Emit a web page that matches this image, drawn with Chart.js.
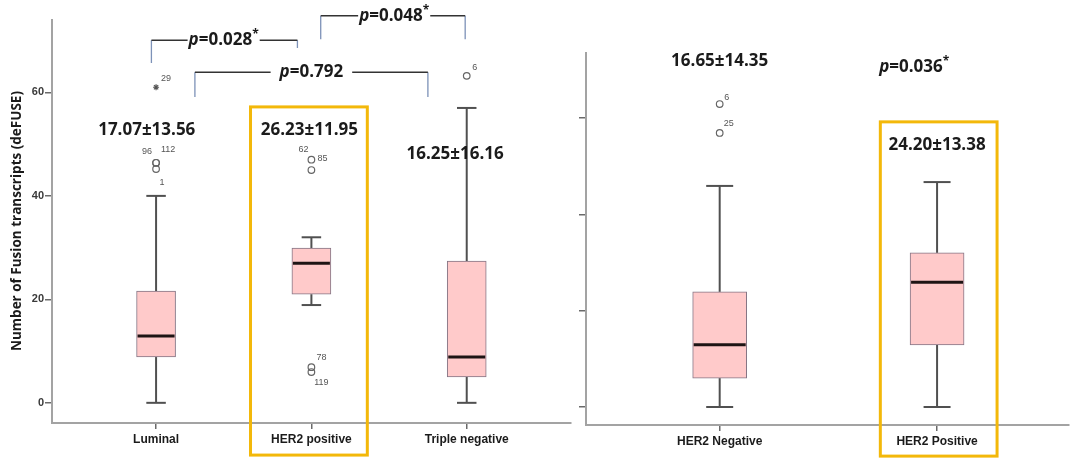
<!DOCTYPE html>
<html><head><meta charset="utf-8">
<script src="https://cdn.jsdelivr.net/npm/chart.js@4.4.1/dist/chart.umd.min.js"></script>
<style>
html,body{margin:0;padding:0;background:#fff;}
#wrap{position:relative;width:1074px;height:458px;overflow:hidden;background:#fff;}
canvas{position:absolute;top:0;}
</style></head><body>
<div id="wrap">
<canvas id="c1" width="576" height="458" style="left:0"></canvas>
<canvas id="c2" width="498" height="458" style="left:576px"></canvas>
</div>
<script>
// ---------- Left panel: molecular subtypes ----------
const subtypeCategories = ['Luminal', 'HER2 positive', 'Triple negative'];
const subtypeQ1 = [8.85, 21.0, 5.0];
const subtypeMedian = [12.9, 27.0, 8.85];
const subtypeQ3 = [21.6, 29.9, 27.4];
const subtypeWhiskerLow = [0, 18.9, 0];
const subtypeWhiskerHigh = [40.0, 32.0, 57.0];
const subtypeMeanSD = ['17.07±13.56', '26.23±11.95', '16.25±16.16'];
const subtypeOutlierCat = [1, 1, 1, 2, 2, 2, 2, 3];
const subtypeOutlierValue = [46.4, 46.4, 45.2, 47.0, 45.0, 6.9, 5.95, 63.2];
const subtypeOutlierId = ['96', '112', '1', '62', '85', '78', '119', '6'];
const subtypeExtremeCat = [1];
const subtypeExtremeValue = [61.0];
const subtypeExtremeId = ['29'];
const subtypePairA = [1, 2, 1];
const subtypePairB = [2, 3, 3];
const subtypePValue = ['0.028', '0.048', '0.792'];
const subtypePSignificant = [true, true, false];
const subtypeTicks = [0, 20, 40, 60];

// ---------- Right panel: HER2 status ----------
const herCategories = ['HER2 Negative', 'HER2 Positive'];
const herQ1 = [6.0, 12.9];
const herMedian = [12.9, 25.9];
const herQ3 = [23.9, 32.0];
const herWhiskerLow = [0, 0];
const herWhiskerHigh = [45.9, 46.7];
const herMeanSD = ['16.65±14.35', '24.20±13.38'];
const herOutlierCat = [1, 1];
const herOutlierValue = [62.9, 56.9];
const herOutlierId = ['6', '25'];
const herPValue = '0.036';
const herTicks = [0, 20, 40, 60];

Chart.defaults.font.family = '"Liberation Sans", Arial, sans-serif';

const BIG = '"Open Sans", "Liberation Sans", sans-serif';
const BOX_FILL = '#ffcaca';
const BOX_EDGE = '#857585';
const WHISK = '#505050';
const YELLOW = '#f3b80a';

function drawRich(ctx, cx, cy, parts, size, clear) {
  ctx.save();
  ctx.textBaseline = 'middle';
  ctx.textAlign = 'left';
  const fonts = parts.map(p => (p.italic ? 'italic ' : '') + 'bold ' + (p.sup ? Math.round(size * 0.7) : size) + 'px ' + BIG);
  let w = 0;
  const ws = parts.map((p, i) => { ctx.font = fonts[i]; const m = ctx.measureText(p.t).width; w += m; return m; });
  if (clear) {
    ctx.fillStyle = '#fff';
    ctx.fillRect(cx - w / 2 - clear, cy - size * 0.6, w + 2 * clear, size * 1.1);
  }
  let x = cx - w / 2;
  ctx.fillStyle = '#1b1b1b';
  parts.forEach((p, i) => {
    ctx.font = fonts[i];
    ctx.fillText(p.t, x, p.sup ? cy - size * 0.3 : cy);
    x += ws[i];
  });
  ctx.restore();
}

function pParts(v, sig) {
  const a = [{ t: 'p', italic: true }, { t: '=' + v }];
  if (sig) a.push({ t: '*', sup: true });
  return a;
}

function boxPlugin(spec) {
  return {
    id: 'boxes',
    beforeDatasetsDraw(chart) {
      const ctx = chart.ctx, xs = chart.scales.x, ys = chart.scales.y;
      ctx.save();
      ctx.strokeStyle = WHISK;
      ctx.lineWidth = 2;
      spec.q1.forEach((_, i) => {
        const x = xs.getPixelForValue(i + 1);
        const cap = spec.boxW / 4;
        const segs = [[spec.wl[i], spec.q1[i]], [spec.q3[i], spec.wh[i]]];
        segs.forEach(([a, b]) => {
          ctx.beginPath();
          ctx.moveTo(x, ys.getPixelForValue(a));
          ctx.lineTo(x, ys.getPixelForValue(b));
          ctx.stroke();
        });
        [spec.wl[i], spec.wh[i]].forEach(v => {
          const y = ys.getPixelForValue(v);
          ctx.beginPath();
          ctx.moveTo(x - cap, y);
          ctx.lineTo(x + cap, y);
          ctx.stroke();
        });
      });
      ctx.restore();
    },
    afterDatasetsDraw(chart) {
      const ctx = chart.ctx, xs = chart.scales.x, ys = chart.scales.y;
      ctx.save();
      ctx.strokeStyle = '#1e1414';
      ctx.lineWidth = 3;
      spec.med.forEach((m, i) => {
        const x = xs.getPixelForValue(i + 1);
        const y = ys.getPixelForValue(m);
        ctx.beginPath();
        ctx.moveTo(x - spec.boxW / 2 + 1, y);
        ctx.lineTo(x + spec.boxW / 2 - 1, y);
        ctx.stroke();
      });
      // outlier case numbers
      ctx.fillStyle = '#555';
      ctx.font = '9px "Liberation Sans", Arial, sans-serif';
      ctx.textAlign = 'center';
      ctx.textBaseline = 'middle';
      spec.labels.forEach(l => {
        const x = xs.getPixelForValue(l.cat) + l.dx;
        const y = ys.getPixelForValue(l.value) + l.dy;
        ctx.fillText(l.id, x, y);
      });
      ctx.restore();
    },
    afterDraw(chart) {
      spec.extra(chart);
    }
  };
}

// ---------- Left chart ----------
const leftLabelOffset = { '96': [-9, -11], '112': [12, -13], '1': [6, 14], '62': [-8, -10], '85': [11, -12], '78': [10, -10], '119': [10, 10], '6': [8, -8], '29': [10, -9] };
const leftLabels = subtypeOutlierId.map((id, i) => ({ id, cat: subtypeOutlierCat[i], value: subtypeOutlierValue[i], dx: leftLabelOffset[id][0], dy: leftLabelOffset[id][1] }))
  .concat(subtypeExtremeId.map((id, i) => ({ id, cat: subtypeExtremeCat[i], value: subtypeExtremeValue[i], dx: leftLabelOffset[id][0], dy: leftLabelOffset[id][1] })));

// bracket geometry in axis units (category units / data units)
const leftBrackets = [
  { x1: 0.97, x2: 1.91, top: 70.1, e1: 65.7, e2: 68.6, tx: 1.435, gap: 1 },
  { x1: 2.06, x2: 2.99, top: 74.8, e1: 70.3, e2: 70.3, tx: 2.533, gap: 1 },
  { x1: 1.25, x2: 2.75, top: 63.9, e1: 59.1, e2: 59.1, tx: 2.0, gap: 9 }
];
const leftMeanPos = [[0.94, 52.7], [1.987, 52.7], [2.925, 48.1]];

function leftExtra(chart) {
  const ctx = chart.ctx, xs = chart.scales.x, ys = chart.scales.y;
  const X = v => xs.getPixelForValue(v), Y = v => ys.getPixelForValue(v);
  // y axis title
  ctx.save();
  ctx.translate(17, 221);
  ctx.rotate(-Math.PI / 2);
  ctx.font = 'bold 13.5px ' + BIG;
  ctx.fillStyle = '#1b1b1b';
  ctx.textAlign = 'center';
  ctx.textBaseline = 'middle';
  ctx.fillText('Number of Fusion transcripts (deFUSE)', 0, 0);
  ctx.restore();
  // brackets
  leftBrackets.forEach((b, i) => {
    ctx.save();
    ctx.strokeStyle = '#7d92b8';
    ctx.lineWidth = 1.3;
    ctx.beginPath();
    ctx.moveTo(X(b.x1), Y(b.e1)); ctx.lineTo(X(b.x1), Y(b.top));
    ctx.moveTo(X(b.x2), Y(b.e2)); ctx.lineTo(X(b.x2), Y(b.top));
    ctx.stroke();
    ctx.strokeStyle = '#333';
    ctx.lineWidth = 1.5;
    ctx.beginPath();
    ctx.moveTo(X(b.x1), Y(b.top)); ctx.lineTo(X(b.x2), Y(b.top));
    ctx.stroke();
    ctx.restore();
    drawRich(ctx, X(b.tx), Y(b.top), pParts(subtypePValue[i], subtypePSignificant[i]), 17, b.gap);
  });
  // mean ± SD
  subtypeMeanSD.forEach((t, i) => drawRich(ctx, X(leftMeanPos[i][0]), Y(leftMeanPos[i][1]), [{ t }], 17, 0));
  // highlight frame
  ctx.save();
  ctx.strokeStyle = YELLOW;
  ctx.lineWidth = 3;
  const fx1 = X(1.608), fx2 = X(2.36), fy1 = Y(57.2), fy2 = Y(-10.1);
  ctx.strokeRect(fx1, fy1, fx2 - fx1, fy2 - fy1);
  ctx.restore();
}

function axisCommon(cats, ticks, min, max, ymin, ymax, yw, xh, showY) {
  return {
    x: {
      type: 'linear', min, max, offset: false,
      afterBuildTicks: s => { s.ticks = cats.map((c, i) => ({ value: i + 1 })); },
      afterFit: s => { s.height = xh; },
      ticks: { callback: v => cats[v - 1], autoSkip: false, maxRotation: 0, padding: 3, color: '#1b1b1b', font: { size: 12, weight: 'bold' } },
      grid: { display: true, offset: false, drawOnChartArea: false, drawTicks: true, tickLength: 6, color: '#6a6a6a', lineWidth: 1.5 },
      border: { display: true, color: '#a3a3a3', width: 2 }
    },
    y: {
      type: 'linear', min: ymin, max: ymax,
      afterBuildTicks: s => { s.ticks = ticks.map(v => ({ value: v })); },
      afterFit: s => { s.width = yw; },
      ticks: { callback: v => showY ? String(v) : '', padding: 1, color: '#3a3a3a', font: { size: 11, weight: 'bold' } },
      grid: { display: true, drawOnChartArea: false, drawTicks: true, tickLength: 7, color: '#6a6a6a', lineWidth: 1.5 },
      border: { display: true, color: '#a3a3a3', width: 2 }
    }
  };
}

new Chart(document.getElementById('c1'), {
  type: 'bar',
  data: {
    datasets: [
      {
        type: 'bar',
        data: subtypeCategories.map((c, i) => ({ x: i + 1, y: [subtypeQ1[i], subtypeQ3[i]] })),
        backgroundColor: BOX_FILL, borderColor: BOX_EDGE, borderWidth: 1, borderSkipped: false, barThickness: 39, order: 3
      },
      {
        type: 'scatter',
        data: subtypeOutlierCat.map((c, i) => ({ x: c, y: subtypeOutlierValue[i] })),
        pointStyle: 'circle', pointRadius: 3.3, pointBorderColor: '#666', pointBackgroundColor: 'rgba(255,255,255,0)', pointBorderWidth: 1.2, order: 1
      },
      {
        type: 'scatter',
        data: subtypeExtremeCat.map((c, i) => ({ x: c, y: subtypeExtremeValue[i] })),
        pointStyle: 'star', pointRadius: 3, pointBorderColor: '#555', pointBackgroundColor: '#555', pointBorderWidth: 1.2, order: 1
      }
    ]
  },
  options: {
    responsive: false, animation: false,
    layout: { padding: { top: 20, right: 4, left: 0, bottom: 0 } },
    plugins: { legend: { display: false }, tooltip: { enabled: false } },
    scales: axisCommon(subtypeCategories, subtypeTicks, 0.33, 3.67, -3.9, 74, 52, 35, true)
  },
  plugins: [boxPlugin({ q1: subtypeQ1, q3: subtypeQ3, med: subtypeMedian, wl: subtypeWhiskerLow, wh: subtypeWhiskerHigh, boxW: 39, labels: leftLabels, extra: leftExtra })]
});

// ---------- Right chart ----------
const rightLabelOffset = { '6': [7, -7], '25': [9, -9] };
const rightLabels = herOutlierId.map((id, i) => ({ id, cat: herOutlierCat[i], value: herOutlierValue[i], dx: rightLabelOffset[id][0], dy: rightLabelOffset[id][1] }));
const rightMeanPos = [[1.0, 71.8], [2.0, 54.4]];

function rightExtra(chart) {
  const ctx = chart.ctx, xs = chart.scales.x, ys = chart.scales.y;
  const X = v => xs.getPixelForValue(v), Y = v => ys.getPixelForValue(v);
  herMeanSD.forEach((t, i) => drawRich(ctx, X(rightMeanPos[i][0]), Y(rightMeanPos[i][1]), [{ t }], 17, 0));
  drawRich(ctx, X(1.895), Y(70.6), pParts(herPValue, true), 17, 0);
  ctx.save();
  ctx.strokeStyle = YELLOW;
  ctx.lineWidth = 3;
  const fx1 = X(1.739), fx2 = X(2.276), fy1 = Y(59.2), fy2 = Y(-10.2);
  ctx.strokeRect(fx1, fy1, fx2 - fx1, fy2 - fy1);
  ctx.restore();
}

new Chart(document.getElementById('c2'), {
  type: 'bar',
  data: {
    datasets: [
      {
        type: 'bar',
        data: herCategories.map((c, i) => ({ x: i + 1, y: [herQ1[i], herQ3[i]] })),
        backgroundColor: BOX_FILL, borderColor: BOX_EDGE, borderWidth: 1, borderSkipped: false, barThickness: 54, order: 3
      },
      {
        type: 'scatter',
        data: herOutlierCat.map((c, i) => ({ x: c, y: herOutlierValue[i] })),
        pointStyle: 'circle', pointRadius: 3.3, pointBorderColor: '#666', pointBackgroundColor: 'rgba(255,255,255,0)', pointBorderWidth: 1.2, order: 1
      }
    ]
  },
  options: {
    responsive: false, animation: false,
    layout: { padding: { top: 53, right: 4, left: 0, bottom: 0 } },
    plugins: { legend: { display: false }, tooltip: { enabled: false } },
    scales: axisCommon(herCategories, herTicks, 0.385, 2.606, -3.74, 73.5, 10, 33, false)
  },
  plugins: [boxPlugin({ q1: herQ1, q3: herQ3, med: herMedian, wl: herWhiskerLow, wh: herWhiskerHigh, boxW: 54, labels: rightLabels, extra: rightExtra })]
});
</script>
</body></html>
